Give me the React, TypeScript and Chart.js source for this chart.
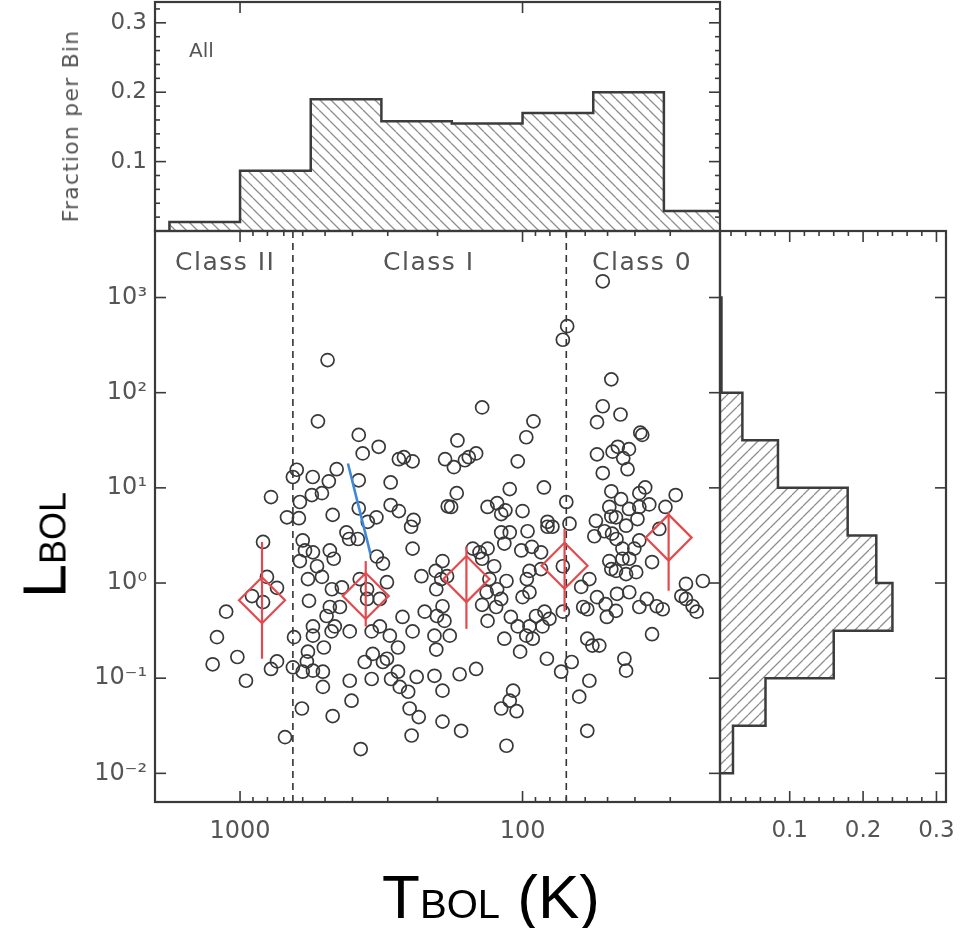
import { useEffect, useRef } from 'react';
import { Chart, registerables } from 'chart.js';

Chart.register(...registerables);

// ---------------- data ----------------
// individual sources: bolometric temperature (K) and luminosity (Lsun)
const sourceT = [
  490, 530, 380, 323, 368, 274, 263, 245, 188, 455, 630, 650, 553, 485, 380, 293, 777, 614, 557, 513,
  380, 293, 274, 329, 682, 619, 470, 243, 184, 52, 69.5, 72, 48.5, 139, 52, 45, 54.5, 91.5, 97, 38.3,
  37.7, 170, 175, 160, 146, 155, 104, 54.5, 48, 46, 42, 44, 42.5, 52, 111, 84, 171, 179, 133, 123,
  115, 119, 100, 70, 48.5, 44.8, 36.8, 38.6, 49.3, 42, 35.6, 31.2, 28.7, 46.7, 55, 39.2, 81.6, 248, 600, 589,
  614, 552, 534, 481, 466, 420, 411, 383, 353, 328, 312, 245, 575, 513, 473, 436, 377, 355, 355, 320,
  302, 228, 203, 192, 185, 570, 481, 443, 494, 462, 409, 474, 342, 320, 295, 266, 245, 222, 201, 205,
  189, 552, 552, 505, 575, 580, 650, 600, 552, 509, 509, 644, 740, 777, 953, 1022, 1250, 1207, 1120, 907,
  829, 803, 740, 829, 362, 339, 312, 302, 276, 409, 342, 292, 276, 272, 254, 237, 205, 192, 403, 604,
  470, 251, 233, 192, 247, 693, 374, 119, 111, 116, 96, 81.6, 78.4, 68.2, 48.5, 38.6, 51.3, 48.2, 43, 46.5,
  55.7, 101, 92.7, 86, 86, 94.5, 96.6, 100, 94.5, 89.6, 83.6, 80.3, 85, 94.5, 104, 110, 97, 92, 102, 116,
  133, 139, 150, 142, 133, 139, 126, 131, 114, 134, 123, 119, 124, 194, 202, 192, 181, 202, 167, 146,
  165, 114, 108, 111, 119, 105, 82, 73, 67, 58, 63, 59, 72, 72, 58, 62, 61, 59, 54.5, 50.8,
  50.3, 46.7, 46.3, 41.9, 59, 56.6, 53.5, 43.6, 43, 49.3, 46.7, 48.5, 44.3, 41.9, 43, 39.6, 40.2, 44.3, 34.8, 38.6,
  36.3, 33.5, 31.9, 34.8, 27.4, 26.4, 26.4, 25, 24.2, 23, 32.8, 38.6,
];
const sourceL = [
  220, 50, 36, 27, 23, 20, 21, 19, 20, 15.7, 15.5, 13, 13, 11.7, 12, 11.4, 8, 7.1, 8.4, 8.8,
  6.1, 6.6, 5.7, 4.9, 4.9, 4.8, 5.2, 4.6, 6.4, 1480, 500, 360, 138, 70, 72, 59, 49, 50, 34, 38,
  36, 31.5, 16.5, 19.5, 23, 21, 19, 22.5, 24, 27, 25.5, 20.5, 15.7, 14.3, 9.7, 10.1, 8.8, 6.3, 6.3, 6.9,
  5.8, 5.3, 5.7, 7.1, 9.2, 7.6, 10.1, 8.8, 6.3, 6.0, 6.7, 6.3, 8.4, 4.9, 4.5, 4.7, 4.4, 3.9, 2.8, 2.2,
  1.7, 2.1, 1.5, 2.2, 1.8, 3.4, 2.9, 2.9, 4.4, 1.9, 1.6, 2.3, 1.1, 1.16, 0.86, 0.9, 1.1, 0.86, 0.68, 0.68,
  1.02, 1.18, 1.34, 1.7, 1.18, 0.65, 0.56, 0.56, 0.45, 0.35, 0.31, 0.31, 0.31, 0.35, 0.28, 0.44, 0.31, 0.5, 0.45, 0.28,
  0.4, 0.35, 0.28, 0.21, 0.19, 0.15, 0.13, 0.117, 0.12, 0.117, 0.081, 0.27, 0.15, 0.125, 0.094, 0.167, 0.14, 0.27, 0.5, 0.73,
  0.63, 1.16, 0.89, 2.7, 0.148, 0.18, 0.148, 0.16, 0.21, 0.094, 0.098, 0.098, 0.117, 0.081, 0.072, 0.103, 0.106, 0.074, 0.058, 0.048,
  0.04, 0.048, 0.039, 0.035, 0.025, 0.024, 0.018, 3.4, 3.4, 2.6, 3.5, 3.9, 3.9, 4.2, 5.0, 6.3, 3.5, 3.3, 4.0, 2.9,
  3.1, 2.2, 2.4, 2.1, 1.4, 1.34, 1.1, 0.71, 0.8, 0.45, 0.5, 0.42, 0.35, 0.35, 0.35, 0.44, 0.28, 0.26, 0.19, 0.26,
  0.4, 0.59, 2.3, 2.1, 2.3, 1.8, 1.5, 1.1, 1.05, 0.8, 0.86, 0.68, 0.56, 1.1, 0.86, 0.57, 0.28, 0.2, 0.11, 0.125,
  0.028, 0.0195, 0.074, 0.058, 0.048, 0.045, 0.16, 0.117, 0.148, 0.094, 0.064, 0.028, 0.5, 1.5, 1.1, 0.91, 0.56, 0.53, 0.71, 0.6,
  0.44, 0.51, 0.77, 0.8, 0.26, 0.22, 0.22, 0.16, 0.12, 1.7, 1.34, 1.4, 1.8, 1.8, 1.24, 1.3, 2.3, 2.3, 1.66, 0.56,
  0.68, 0.57, 0.53, 0.29, 0.73, 0.98, 0.68, 0.57, 0.5, 1.05, 3.7, 2.8,
];

// medians per bin with their ranges (red diamonds)
const medianT = [836, 359, 158, 71, 30.4];
const medianL = [0.66, 0.73, 1.1, 1.52, 3.0];
const medianLow = [0.16, 0.35, 0.33, 0.5, 0.83];
const medianHigh = [2.7, 1.7, 2.4, 3.7, 5.6];

// blue evolutionary track segment
const trackT = [415, 345];
const trackL = [18, 2.0];

// class boundaries (K) and labels
const classEdgesT = [650, 70];
const classLabels = ['Class II', 'Class I', 'Class 0'];

// top histogram: Tbol bin edges (K) and fraction per bin
const tBinEdges = [1778, 1000, 562, 316, 178, 100, 56.2, 31.6, 17.8];
const tBinFrac = [0.013, 0.087, 0.19, 0.158, 0.155, 0.17, 0.2, 0.029];

// right histogram: Lbol bin edges and fraction per bin
const lBinEdges = [0.01, 0.0316, 0.1, 0.316, 1, 3.16, 10, 31.6, 100, 316, 1000, 3162];
const lBinFrac = [0.0227, 0.067, 0.16, 0.24, 0.218, 0.179, 0.084, 0.0355, 0.007, 0.007, 0.004];

// ticks
const tTickValues = [1000, 100];
const tTickLabels = ['1000', '100'];
const tMinorTicks = [2000, 900, 800, 700, 600, 500, 400, 300, 200, 90, 80, 70, 60, 50, 40, 30, 20];
const lTickValues = [0.01, 0.1, 1, 10, 100, 1000];
const lTickLabels = ['10⁻²', '10⁻¹', '10⁰', '10¹', '10²', '10³'];
const fracTickValues = [0.1, 0.2, 0.3];
const fracTickLabels = ['0.1', '0.2', '0.3'];
const fracMinorTicks = [0.02, 0.04, 0.06, 0.08, 0.12, 0.14, 0.16, 0.18, 0.22, 0.24, 0.26, 0.28, 0.32];

// axis ranges
const T_MIN = 20;
const T_MAX = 2000;
const L_MIN = 0.005;
const L_MAX = 5000;
const TOP_FRAC_MAX = 0.33;
const RIGHT_FRAC_MIN = 0.005;
const RIGHT_FRAC_MAX = 0.313;

// ---------------- layout & style ----------------
const W = 960;
const H = 928;
const PLOT_LEFT = 155;
const PLOT_RIGHT = 720;
const PLOT_TOP = 231;
const PLOT_BOTTOM = 802;
const TOP_HIST_TOP = 2;
const RIGHT_HIST_RIGHT = 946;

const FONT = "'DejaVu Sans', 'Noto Sans', sans-serif";
const TITLE_FONT = "'Liberation Sans', Arial, sans-serif";
const LABEL = '#555555';
const AXIS = '#3a3a3a';
const RED = '#e34a4e';
const BLUE = '#3f88d9';
const CIRCLE = '#383838';
const HIST_LINE = '#3c3c3c';

type Side = { scale: string; edge: 'top' | 'bottom' | 'left' | 'right'; major: number[]; minor?: number[] };

function makeBoxTicks(sides: Side[]) {
  return {
    id: 'boxTicks',
    afterDatasetsDraw(chart: any) {
      const { ctx, chartArea: a } = chart;
      ctx.save();
      ctx.strokeStyle = AXIS;
      for (const side of sides) {
        const sc = chart.scales[side.scale];
        const horiz = side.edge === 'top' || side.edge === 'bottom';
        const one = (v: number, len: number) => {
          const p = sc.getPixelForValue(v);
          if (horiz ? p < a.left - 0.5 || p > a.right + 0.5 : p < a.top - 0.5 || p > a.bottom + 0.5) return;
          ctx.beginPath();
          if (side.edge === 'bottom') { ctx.moveTo(p, a.bottom); ctx.lineTo(p, a.bottom - len); }
          else if (side.edge === 'top') { ctx.moveTo(p, a.top); ctx.lineTo(p, a.top + len); }
          else if (side.edge === 'left') { ctx.moveTo(a.left, p); ctx.lineTo(a.left + len, p); }
          else { ctx.moveTo(a.right, p); ctx.lineTo(a.right - len, p); }
          ctx.stroke();
        };
        ctx.lineWidth = 1.6;
        side.major.forEach((v) => one(v, 11));
        (side.minor || []).forEach((v) => one(v, 5));
      }
      ctx.lineWidth = 2.2;
      ctx.strokeRect(a.left, a.top, a.right - a.left, a.bottom - a.top);
      ctx.restore();
    },
  };
}

function hatch(ctx: CanvasRenderingContext2D, dir: 'back' | 'fwd') {
  const size = 11;
  const c = document.createElement('canvas');
  c.width = size;
  c.height = size;
  const g = c.getContext('2d')!;
  g.strokeStyle = '#8e8e8e';
  g.lineWidth = 1.3;
  g.beginPath();
  for (let k = -1; k <= 1; k++) {
    if (dir === 'back') { g.moveTo(k * size, 0); g.lineTo(k * size + size, size); }
    else { g.moveTo(k * size, size); g.lineTo(k * size + size, 0); }
  }
  g.stroke();
  return ctx.createPattern(c, 'repeat')!;
}

const fixWidth = (w: number) => (s: any) => {
  s.width = w;
  s.paddingTop = 0; s.paddingBottom = 0; s.paddingLeft = 0; s.paddingRight = 0;
};
const fixHeight = (h: number) => (s: any) => {
  s.height = h;
  s.paddingTop = 0; s.paddingBottom = 0; s.paddingLeft = 0; s.paddingRight = 0;
};
const noGrid = { display: false, drawTicks: false };
const noBorder = { display: false };

export default function App() {
  const mainRef = useRef<HTMLCanvasElement>(null);
  const topRef = useRef<HTMLCanvasElement>(null);
  const rightRef = useRef<HTMLCanvasElement>(null);

  useEffect(() => {
    Chart.defaults.font.family = FONT;
    const charts: Chart[] = [];

    // ---------- top histogram ----------
    const topCtx = topRef.current!.getContext('2d')!;
    const topPts: { x: number; y: number }[] = [{ x: tBinEdges[0], y: 0 }];
    tBinFrac.forEach((f, i) => topPts.push({ x: tBinEdges[i], y: f }, { x: tBinEdges[i + 1], y: f }));
    topPts.push({ x: tBinEdges[tBinEdges.length - 1], y: 0 });

    charts.push(new Chart(topCtx, {
      type: 'line',
      data: {
        datasets: [{
          data: topPts, borderColor: HIST_LINE, borderWidth: 2.5, backgroundColor: hatch(topCtx, 'back'),
          fill: 'shape', pointRadius: 0, tension: 0, clip: 0,
        } as any],
      },
      options: {
        responsive: false, animation: false, events: [],
        layout: { autoPadding: false, padding: { left: 0, top: TOP_HIST_TOP, right: W - PLOT_RIGHT, bottom: H - PLOT_TOP } },
        plugins: { legend: { display: false }, tooltip: { enabled: false } },
        scales: {
          x: {
            type: 'logarithmic', reverse: true, min: T_MIN, max: T_MAX,
            ticks: { display: false }, grid: noGrid, border: noBorder, afterFit: fixHeight(0),
          },
          y: {
            type: 'linear', min: 0, max: TOP_FRAC_MAX, grid: noGrid, border: noBorder,
            afterBuildTicks: (s: any) => { s.ticks = fracTickValues.map((v) => ({ value: v })); },
            ticks: { callback: (_v: any, i: number) => fracTickLabels[i], font: { size: 23, family: FONT }, color: LABEL, padding: 8 },
            afterFit: fixWidth(PLOT_LEFT),
          },
        },
      } as any,
      plugins: [makeBoxTicks([
        { scale: 'y', edge: 'left', major: fracTickValues, minor: fracMinorTicks },
        { scale: 'y', edge: 'right', major: fracTickValues, minor: fracMinorTicks },
        { scale: 'x', edge: 'top', major: tTickValues },
      ])],
    }));

    // ---------- right histogram ----------
    const rightCtx = rightRef.current!.getContext('2d')!;
    const rightPts: { x: number; y: number }[] = [{ x: 0, y: lBinEdges[0] }];
    lBinFrac.forEach((f, i) => rightPts.push({ x: f, y: lBinEdges[i] }, { x: f, y: lBinEdges[i + 1] }));
    rightPts.push({ x: 0, y: lBinEdges[lBinEdges.length - 1] });

    charts.push(new Chart(rightCtx, {
      type: 'line',
      data: {
        datasets: [{
          data: rightPts, borderColor: HIST_LINE, borderWidth: 2.5, backgroundColor: hatch(rightCtx, 'fwd'),
          fill: 'shape', pointRadius: 0, tension: 0, clip: 0,
        } as any],
      },
      options: {
        responsive: false, animation: false, events: [],
        layout: { autoPadding: false, padding: { left: PLOT_RIGHT, top: PLOT_TOP, right: W - RIGHT_HIST_RIGHT, bottom: 0 } },
        plugins: { legend: { display: false }, tooltip: { enabled: false } },
        scales: {
          x: {
            type: 'linear', min: RIGHT_FRAC_MIN, max: RIGHT_FRAC_MAX, grid: noGrid, border: noBorder,
            afterBuildTicks: (s: any) => { s.ticks = fracTickValues.map((v) => ({ value: v })); },
            ticks: { callback: (_v: any, i: number) => fracTickLabels[i], font: { size: 23, family: FONT }, color: LABEL, padding: 15, maxRotation: 0, autoSkip: false },
            afterFit: fixHeight(H - PLOT_BOTTOM),
          },
          y: {
            type: 'logarithmic', min: L_MIN, max: L_MAX, ticks: { display: false }, grid: noGrid, border: noBorder,
            afterFit: fixWidth(0),
          },
        },
      } as any,
      plugins: [makeBoxTicks([
        { scale: 'x', edge: 'bottom', major: fracTickValues, minor: fracMinorTicks },
        { scale: 'x', edge: 'top', major: fracTickValues, minor: fracMinorTicks },
        { scale: 'y', edge: 'right', major: lTickValues },
      ])],
    }));

    // ---------- main scatter ----------
    const mainCtx = mainRef.current!.getContext('2d')!;
    const datasets: any[] = [
      {
        data: medianT.map((t, i) => ({ x: t, y: medianL[i] })),
        pointStyle: 'rectRot', pointRadius: 23, borderColor: RED, borderWidth: 2.2,
        backgroundColor: 'rgba(0,0,0,0)', showLine: false,
      },
      ...medianT.map((t, i) => ({
        type: 'line', data: [{ x: t, y: medianLow[i] }, { x: t, y: medianHigh[i] }],
        borderColor: RED, borderWidth: 2.2, pointRadius: 0, fill: false, tension: 0,
      })),
      {
        type: 'line', data: trackT.map((t, i) => ({ x: t, y: trackL[i] })),
        borderColor: BLUE, borderWidth: 2.6, pointRadius: 0, fill: false, tension: 0,
      },
      {
        data: sourceT.map((t, i) => ({ x: t, y: sourceL[i] })),
        pointStyle: 'circle', pointRadius: 6.5, borderColor: CIRCLE, borderWidth: 1.7,
        backgroundColor: 'rgba(0,0,0,0)', showLine: false,
      },
      ...classEdgesT.map((t) => ({
        type: 'line', data: [{ x: t, y: L_MIN }, { x: t, y: L_MAX }],
        borderColor: '#333', borderWidth: 1.6, borderDash: [7, 5], pointRadius: 0, fill: false, tension: 0,
      })),
    ];

    charts.push(new Chart(mainCtx, {
      type: 'scatter',
      data: { datasets },
      options: {
        responsive: false, animation: false, events: [],
        layout: { autoPadding: false, padding: { left: 0, top: PLOT_TOP, right: W - PLOT_RIGHT, bottom: 0 } },
        plugins: { legend: { display: false }, tooltip: { enabled: false } },
        scales: {
          x: {
            type: 'logarithmic', reverse: true, min: T_MIN, max: T_MAX, grid: noGrid, border: noBorder,
            afterBuildTicks: (s: any) => { s.ticks = tTickValues.map((v) => ({ value: v })); },
            ticks: { callback: (_v: any, i: number) => tTickLabels[i], font: { size: 24, family: FONT }, color: LABEL, padding: 15, maxRotation: 0, autoSkip: false },
            afterFit: fixHeight(H - PLOT_BOTTOM),
          },
          y: {
            type: 'logarithmic', min: L_MIN, max: L_MAX, grid: noGrid, border: noBorder,
            afterBuildTicks: (s: any) => { s.ticks = lTickValues.map((v) => ({ value: v })); },
            ticks: { callback: (_v: any, i: number) => lTickLabels[i], font: { size: 24, family: FONT }, color: LABEL, padding: 8, autoSkip: false },
            afterFit: fixWidth(PLOT_LEFT),
          },
        },
      } as any,
      plugins: [makeBoxTicks([
        { scale: 'x', edge: 'bottom', major: tTickValues, minor: tMinorTicks },
        { scale: 'x', edge: 'top', major: tTickValues, minor: tMinorTicks },
        { scale: 'y', edge: 'left', major: lTickValues },
        { scale: 'y', edge: 'right', major: lTickValues },
      ])],
    }));

    return () => charts.forEach((c) => c.destroy());
  }, []);

  const abs: React.CSSProperties = { position: 'absolute', left: 0, top: 0, width: W, height: H };
  const classLabelLeft = [175, 383, 592];

  return (
    <div style={{ position: 'absolute', left: 0, top: 0, width: W, height: H, background: '#fff', overflow: 'hidden' }}>
      <canvas ref={topRef} width={W} height={H} style={abs} />
      <canvas ref={rightRef} width={W} height={H} style={abs} />
      <canvas ref={mainRef} width={W} height={H} style={abs} />
      {classLabels.map((t, i) => (
        <div key={t} style={{ position: 'absolute', left: classLabelLeft[i], top: 249, font: `25px ${FONT}`, lineHeight: 1, letterSpacing: '1.5px', color: LABEL, whiteSpace: 'pre' }}>{t}</div>
      ))}
      <div style={{ position: 'absolute', left: 189, top: 40, font: `20px ${FONT}`, lineHeight: 1, color: LABEL }}>All</div>
      <div style={{ position: 'absolute', left: 71, top: 126, transform: 'translate(-50%, -50%) rotate(-90deg)', font: `22px ${FONT}`, lineHeight: 1, letterSpacing: '1.2px', color: LABEL, whiteSpace: 'nowrap' }}>Fraction per Bin</div>
      <div style={{ position: 'absolute', left: 45, top: 545, transform: 'translate(-50%, -50%) rotate(-90deg)', font: `61px ${TITLE_FONT}`, lineHeight: 1, color: '#000', whiteSpace: 'nowrap' }}>
        L<span style={{ fontSize: 36 }}>BOL</span>
      </div>
      <div style={{ position: 'absolute', left: 491, top: 866, transform: 'translateX(-50%)', font: `62px ${TITLE_FONT}`, lineHeight: 1, color: '#000', whiteSpace: 'nowrap' }}>
        T<span style={{ fontSize: 40 }}>BOL</span> (K)
      </div>
    </div>
  );
}
